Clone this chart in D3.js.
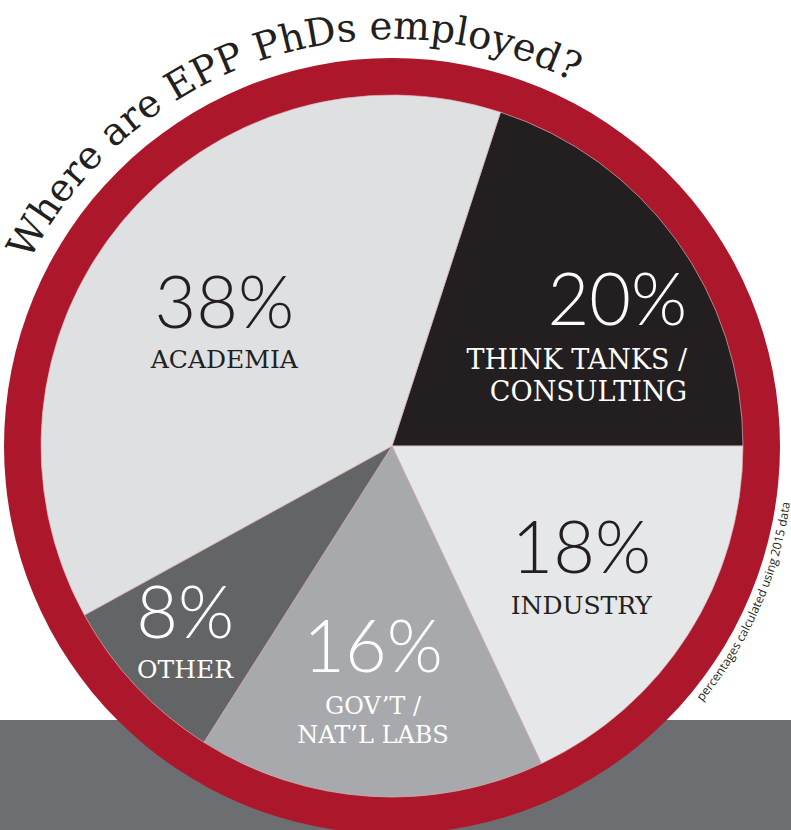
<!DOCTYPE html>
<html>
<head>
<meta charset="utf-8">
<script src="https://cdn.jsdelivr.net/npm/d3@7"></script>
<style>
  html, body { margin: 0; padding: 0; background: #fff; }
  svg { display: block; }
  .pct { font-family: "Lato", "Open Sans", sans-serif; font-weight: 300; }
  .lbl { font-family: "DejaVu Serif", "Liberation Serif", serif; }
</style>
</head>
<body>
<div id="chart"></div>
<script>
// データ（時計回り、THINK TANKSから）
const categories = ["THINK TANKS / CONSULTING", "INDUSTRY", "GOV'T / NAT'L LABS", "OTHER", "ACADEMIA"];
const shares = [20, 18, 16, 8, 38];
const labelLines = [["THINK TANKS /", "CONSULTING"], ["INDUSTRY"], ["GOV’T /", "NAT’L LABS"], ["OTHER"], ["ACADEMIA"]];
const titleText = "Where are EPP PhDs employed?";
const noteText = "percentages calculated using 2015 data";

// 色・レイアウト
const sliceColors = ["#231f20", "#e6e7e8", "#a7a9ac", "#636466", "#dfe0e2"];
const textColors = ["#ffffff", "#231f20", "#ffffff", "#ffffff", "#231f20"];
// ラベル位置（中心角からのずれ[度]と半径）
const labelLayout = [
  {r: 319, da: 13.7, anchor: "end", size: 27, first: 44, gap: 32},
  {r: 228, da: 1.5, anchor: "middle", size: 25, first: 41, gap: 28},
  {r: 227, da: 1.2, anchor: "middle", size: 24, first: 42, gap: 29},
  {r: 282, da: 0.4, anchor: "middle", size: 25, first: 40, gap: 28},
  {r: 205, da: -4.5, anchor: "middle", size: 25, first: 40, gap: 28}
];

const W = 791, H = 830;
const cx = 392, cy = 446;
const outerR = 388, pieR = 351;
const rad = Math.PI / 180;

const svg = d3.select("#chart").append("svg")
  .attr("width", W).attr("height", H);

// 下の灰色帯
svg.append("rect")
  .attr("x", 0).attr("y", 720)
  .attr("width", W).attr("height", H - 720)
  .attr("fill", "#6d6e71");

const g = svg.append("g").attr("transform", `translate(${cx},${cy})`);

// 赤いリング
g.append("circle").attr("r", outerR).attr("fill", "#ad172b");

const pie = d3.pie().sort(null).value(d => d)
  .startAngle(18 * rad).endAngle(378 * rad);
const arcs = pie(shares);
const arc = d3.arc().innerRadius(0).outerRadius(pieR);

g.selectAll("path.slice")
  .data(arcs)
  .join("path")
  .attr("class", "slice")
  .attr("d", arc)
  .attr("fill", (d, i) => sliceColors[i])
  .attr("stroke", "#d9b4b9")
  .attr("stroke-width", 0.7);

// ラベル
arcs.forEach(function(d, i) {
  const lay = labelLayout[i];
  const a = (d.startAngle + d.endAngle) / 2 + lay.da * rad;
  const x = lay.r * Math.sin(a);
  const y = -lay.r * Math.cos(a);
  const t = g.append("g").attr("transform", `translate(${x},${y})`)
    .attr("fill", textColors[i])
    .attr("text-anchor", lay.anchor);
  t.append("text")
    .attr("class", "pct")
    .attr("font-size", 72)
    .text(shares[i] + "%");
  labelLines[i].forEach(function(line, j) {
    t.append("text")
      .attr("class", "lbl")
      .attr("font-size", lay.size)
      .attr("y", lay.first + j * lay.gap)
      .text(line);
  });
});

// タイトル（円弧に沿って）
function polar(r, deg) {
  return [r * Math.sin(deg * rad), -r * Math.cos(deg * rad)];
}
const titleR = 407;
const t0 = polar(titleR, -63), t1 = polar(titleR, 60);
g.append("path")
  .attr("id", "titlePath")
  .attr("fill", "none")
  .attr("d", `M${t0[0]},${t0[1]} A${titleR},${titleR} 0 0 1 ${t1[0]},${t1[1]}`);

// フォントサイズを弧の長さに合わせる
const probe = svg.append("text")
  .attr("font-family", "DejaVu Serif").attr("font-size", 36)
  .text(titleText);
const probeLen = probe.node().getComputedTextLength();
probe.remove();
const targetLen = titleR * 89.5 * rad;
const titleSize = 36 * targetLen / probeLen;

g.append("text")
  .attr("font-family", "DejaVu Serif, serif")
  .attr("font-size", titleSize)
  .attr("fill", "#231f20")
  .append("textPath")
  .attr("href", "#titlePath")
  .text(titleText);

// 注記（右側、反時計回り）
const noteR = 402;
const n0 = polar(noteR, 129.5), n1 = polar(noteR, 70);
g.append("path")
  .attr("id", "notePath")
  .attr("fill", "none")
  .attr("d", `M${n0[0]},${n0[1]} A${noteR},${noteR} 0 0 0 ${n1[0]},${n1[1]}`);

g.append("text")
  .attr("font-family", "Open Sans, sans-serif")
  .attr("font-size", 12)
  .attr("fill", "#231f20")
  .append("textPath")
  .attr("href", "#notePath")
  .text(noteText);
</script>
</body>
</html>
